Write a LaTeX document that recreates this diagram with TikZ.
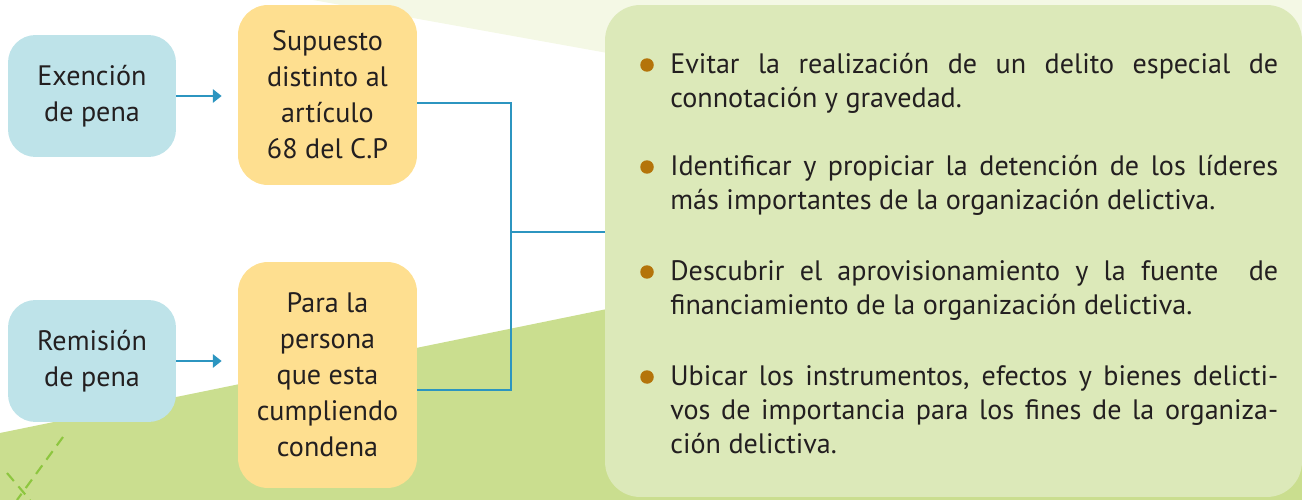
\documentclass[tikz,border=0pt]{standalone}
\usepackage{fontspec}
\setmainfont{PT Sans}
\usetikzlibrary{arrows.meta}
\definecolor{ink}{RGB}{35,31,32}
\definecolor{boxblue}{RGB}{190,227,233}
\definecolor{boxyellow}{RGB}{254,223,144}
\definecolor{boxgreen}{RGB}{220,233,185}
\definecolor{fieldgreen}{RGB}{202,222,143}
\definecolor{palegreen}{RGB}{244,248,229}
\definecolor{linkblue}{RGB}{44,149,192}
\definecolor{bulletbrown}{RGB}{180,116,10}
\definecolor{dashgreen}{RGB}{141,198,63}
\tikzset{
    pena/.style={rectangle, rounded corners=0.55cm, fill=boxblue, inner sep=0,
        minimum width=3.36cm, minimum height=2.44cm, align=center, text=ink,
        font=\fontsize{16}{20.5}\selectfont},
    supuesto/.style={rectangle, rounded corners=0.6cm, fill=boxyellow, inner sep=0,
        minimum width=3.58cm, align=center, text=ink,
        font=\fontsize{16}{20.5}\selectfont},
    medidas/.style={rectangle, rounded corners=0.7cm, fill=boxgreen, inner sep=0,
        minimum width=13.94cm, minimum height=9.84cm},
    punto/.style={text width=12.16cm, align=justify, inner sep=0, text=ink,
        font=\fontsize{16}{19.4}\selectfont},
    bolita/.style={circle, fill=bulletbrown, inner sep=0, minimum size=0.27cm},
    flecha/.style={draw=linkblue, line width=1.6pt, -{Triangle[length=5pt,width=7.5pt]}},
    link/.style={draw=linkblue, line width=1.6pt},
    rastro/.style={draw=dashgreen, line width=1.2pt, dash pattern=on 6pt off 4pt}
}
\begin{document}
\begin{tikzpicture}[x=0.02cm, y=-0.02cm]
    \useasboundingbox (0,0) rectangle (1302,500);
    % fondo
    \fill[palegreen] (313,0) -- (1302,178) -- (1302,0) -- cycle;
    \fill[fieldgreen] (0,433) -- (1302,167) -- (1302,500) -- (0,500) -- cycle;
    \draw[rastro] (63,437) -- (17,500);
    \draw[rastro] (7,473) -- (30,500);

    % cajas
    \node[pena] (exencion) at (92,96) {Exención\\de pena};
    \node[pena] (remision) at (92,361) {Remisión\\de pena};
    \node[supuesto, minimum height=3.6cm] (distinto) at (327.5,95) {Supuesto\\distinto al\\artículo\\68 del C.P};
    \node[supuesto, minimum height=4.52cm] (persona) at (327.5,375) {Para la\\persona\\que esta\\cumpliendo\\condena};
    \node[medidas] (lista) at (953.5,251) {};

    % conexiones
    \coordinate (knee) at (511,232);
    \draw[flecha, shorten >=0.32cm] (exencion.east) -- (exencion.east -| distinto.west);
    \draw[flecha, shorten >=0.32cm] (remision.east) -- (remision.east -| persona.west);
    \draw[link] ([yshift=-0.16cm]distinto.east) -| (knee) |- ([yshift=-0.3cm]persona.east);
    \draw[link] (knee) -- (knee -| lista.west);

    % lista de fines
    \foreach \y/\n in {65/1, 167/2, 272/3, 377/4}
        \node[bolita] (b\n) at (647,\y) {};
    \node[punto, anchor=north west] (p1) at (670,53)
        {Evitar la realización de un delito especial de\linebreak connotación y gravedad.};
    \node[punto, anchor=north west] (p2) at (670,155)
        {Identificar y propiciar la detención de los líderes\linebreak más importantes de la organización delictiva.};
    \node[punto, anchor=north west] (p3) at (670,260)
        {Descubrir el aprovisionamiento y la fuente~ de\linebreak financiamiento de la organización delictiva.};
    \node[punto, anchor=north west] (p4) at (670,365)
        {Ubicar los instrumentos, efectos y bienes delicti-\linebreak vos de importancia para los fines de la organiza-\linebreak ción delictiva.};
\end{tikzpicture}
\end{document}
